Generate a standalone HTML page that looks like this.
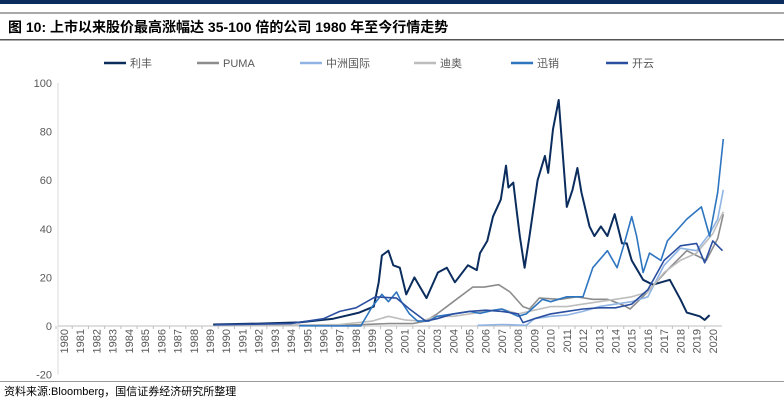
<!DOCTYPE html>
<html><head><meta charset="utf-8"><style>
body{margin:0;background:#fff;width:784px;height:405px;overflow:hidden;font-family:"Liberation Sans","Noto Sans CJK SC",sans-serif}
</style></head><body>
<svg id="c" width="784" height="405" xmlns="http://www.w3.org/2000/svg">
<rect x="0" y="0" width="784" height="4" fill="#0b2d5e"/>
<rect x="0" y="12" width="784" height="2" fill="#a8a8a8"/>
<text x="8" y="32" font-size="14" font-weight="bold" fill="#000">图 10:  上市以来股价最高涨幅达 35-100 倍的公司 1980 年至今行情走势</text>
<rect x="0" y="39" width="784" height="1.5" fill="#555"/>
<g id="legend"></g>
<g id="axes"></g>
<g id="series"></g>
<rect x="0" y="381" width="784" height="1" fill="#999"/>
<text x="4" y="395" font-size="11" fill="#000">资料来源:Bloomberg，国信证券经济研究所整理</text>
</svg>
<script>
const yTicks=[100,80,60,40,20,0,-20];
const years=[];for(let y=1980;y<=2020;y++)years.push(y);
const seriesNames=["利丰","PUMA","中洲国际","迪奥","迅销","开云"];
const colors=["#0b2d5e","#8c8c8c","#8fb4e3","#bdbdbd","#2e75c0","#2b4fa0"];
const lifung=[[1989.2,0.6],[1992,1],[1994.5,1.5],[1996.6,3],[1998.2,5.5],[1999.1,8],[1999.4,18],[1999.6,29],[2000,31],[2000.3,25],[2000.7,24],[2001.1,13],[2001.6,20],[2002.35,11.5],[2003.05,22],[2003.6,24],[2004.1,18],[2004.9,25],[2005.45,23],[2005.65,30],[2006.1,35],[2006.45,45],[2006.93,52],[2007.25,66],[2007.4,57],[2007.7,59],[2007.9,48],[2008.1,37],[2008.4,24],[2008.7,37],[2009.2,60],[2009.65,70],[2009.85,63],[2010.15,81],[2010.5,93],[2010.7,75],[2011,49],[2011.35,56],[2011.65,65],[2011.9,55],[2012.4,41],[2012.7,37],[2013.1,41],[2013.5,37],[2013.95,46],[2014.4,34],[2014.7,34],[2015,27],[2015.7,19],[2016.3,17],[2017.35,19],[2018,11],[2018.4,5.5],[2019.2,4],[2019.5,2.5],[2019.8,4.5]];
const puma=[[1996,0.2],[1998,0.5],[2000,1],[2001.5,1],[2002.3,2],[2003,5],[2004,10],[2005.2,16],[2005.9,16],[2006.8,17],[2007.5,14],[2008.3,8],[2008.7,7],[2009.3,11.5],[2010.6,11],[2011.6,12],[2012.6,11],[2013.5,11],[2014.5,8.5],[2014.9,7],[2015.9,13.5],[2017.2,23],[2018.4,31],[2019.6,27],[2020.3,36],[2020.65,46]];
const zhongzhou=[[2005.5,0.3],[2007,0.6],[2008.5,0.3],[2009,3],[2010,4],[2011,4.5],[2012,6],[2013,8],[2014,9],[2015,10],[2016,12],[2017,25],[2018,32],[2019,31],[2019.8,38],[2020.3,44],[2020.65,56]];
const dior=[[1989.5,0.3],[1994,0.4],[1997,0.6],[1999,2],[2000,4],[2001,2.5],[2002,2],[2003,4],[2004,4],[2005,5],[2006,6],[2007,7],[2008,5],[2009,6.5],[2010,8],[2011,8],[2012,9],[2013,10],[2014,11],[2015,12],[2016,14],[2017,22],[2018,27],[2019,30],[2020,38],[2020.65,47]];
const uniqlo=[[1994.5,0.1],[1998.3,0],[1999,8],[1999.6,13],[2000,10],[2000.5,14],[2000.8,10],[2001.3,5],[2001.8,2],[2002.5,2],[2003,4],[2004,5],[2005,6],[2005.65,5.2],[2006.5,6.5],[2007,7],[2008,4],[2008.5,5],[2009,8],[2009.5,11],[2010,10],[2011,12],[2012,12],[2012.6,24],[2013.5,31],[2014.1,24],[2014.5,33],[2015,45],[2015.3,37],[2015.7,22],[2016.1,30],[2016.8,27],[2017.2,35],[2018.4,44],[2019.3,49],[2019.8,37],[2020.3,55],[2020.65,77]];
const kering=[[1989.3,0.5],[1994,1],[1996,3],[1997,6],[1998,7.5],[1999.2,12],[2000.5,11.5],[2001.3,7],[2002.3,2],[2003,3],[2004,5],[2005,6],[2006,6.5],[2007,6],[2008,5],[2008.3,1.4],[2009,3],[2010,5],[2011,6],[2012,7],[2013,7.5],[2014,7.5],[2015,9],[2016,15],[2017,27],[2018,33],[2019,34],[2019.5,26],[2020,35],[2020.6,31]];
const allSeries=[lifung,puma,zhongzhou,dior,uniqlo,kering];
const NS="http://www.w3.org/2000/svg";
const X0=64,XS=16.22,Y0=326,YS=2.43;
function xs(t){return X0+(t-1980)*XS;}
function ys(v){return Y0-v*YS;}
function mk(tag,attrs,parent){const e=document.createElementNS(NS,tag);for(const k in attrs)e.setAttribute(k,attrs[k]);parent.appendChild(e);return e;}
const axes=document.getElementById('axes');
const zl=mk('line',{x1:58,x2:722,y1:ys(0),y2:ys(0),stroke:'#bfbfbf','stroke-width':1},axes);


const yl=mk('line',{x1:58,x2:58,y1:ys(100),y2:ys(-20),stroke:'#d9d9d9','stroke-width':1},axes);


yTicks.forEach(v=>{const t=mk('text',{x:52,y:ys(v)+4,'font-size':11,fill:'#595959','text-anchor':'end'},axes);t.textContent=v;

});
years.forEach(yr=>{const x=xs(yr);const tk=mk('line',{x1:x-8,x2:x-8,y1:ys(0),y2:ys(0)+3,stroke:'#bfbfbf'},axes);


const t=mk('text',{x:0,y:0,'font-size':11,fill:'#595959','text-anchor':'end',transform:`translate(${x+4},${ys(0)+3}) rotate(-90)`},axes);t.textContent=yr;

});
const sg=document.getElementById('series');
allSeries.forEach((s,i)=>{const d=s.map((p,j)=>(j?'L':'M')+xs(p[0]).toFixed(1)+','+ys(p[1]).toFixed(1)).join('');
const p=mk('path',{d:d,fill:'none',stroke:colors[i],'stroke-width':i==0?2:1.6,'stroke-linejoin':'round'},sg);

});
const lg=document.getElementById('legend');
const lx=[104,197,300,414,511,606];
seriesNames.forEach((n,i)=>{const l=mk('line',{x1:lx[i],x2:lx[i]+22,y1:63,y2:63,stroke:colors[i],'stroke-width':2.5},lg);


const t=mk('text',{x:lx[i]+26,y:67,'font-size':11,fill:'#595959'},lg);t.textContent=n;

});
</script>
</body></html>
